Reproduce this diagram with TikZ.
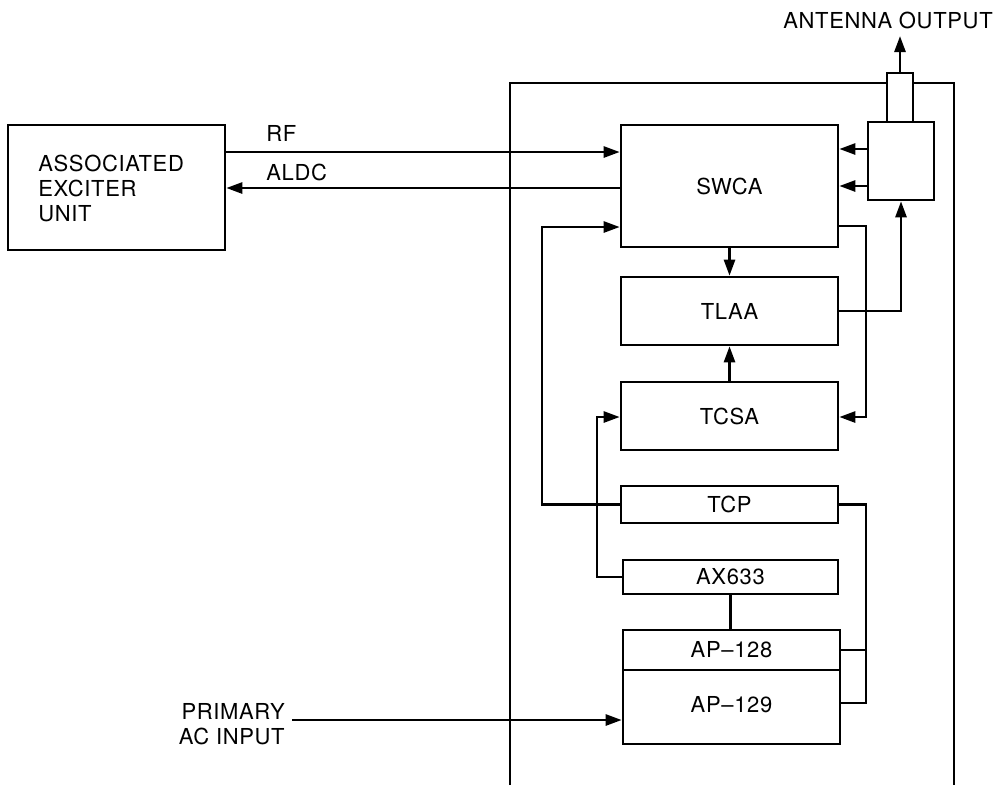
\documentclass[tikz,border=0pt]{standalone}
\usepackage{fontspec}
\setmainfont[LetterSpace=3]{TeX Gyre Heros}
\usetikzlibrary{arrows.meta}
\begin{document}
\begin{tikzpicture}[x=1pt,y=-1pt,
  line width=2.6pt,
  every node/.style={font=\fontsize{22}{25}\selectfont},
  blk/.style={draw, rectangle, inner sep=0pt, fill=white},
  arr/.style={-{Triangle[length=16pt,width=11pt]}},
  lbl/.style={inner sep=0pt}]
\useasboundingbox (0,0) rectangle (1000,785);
% outer enclosure
\draw (510,785) -- (510,83) -- (954,83) -- (954,785);
% blocks
\node[blk, minimum width=217pt, minimum height=125pt] (exc) at (116.5,187.5) {};
\node[lbl, anchor=west, align=left] (exctext) at (37,188) {ASSOCIATED\\EXCITER\\UNIT};
\node[blk, minimum width=217pt, minimum height=122pt] (swca) at (729.5,186) {SWCA};
\node[blk, minimum width=217pt, minimum height=68pt] (tlaa) at (729.5,311) {TLAA};
\node[blk, minimum width=217pt, minimum height=68pt] (tcsa) at (729.5,416) {TCSA};
\node[blk, minimum width=217pt, minimum height=37pt] (tcp) at (729.5,504.5) {TCP};
\node[blk, minimum width=215pt, minimum height=34pt] (ax) at (730.5,577) {AX633};
\node[blk, minimum width=217pt, minimum height=40pt] (ap128) at (731.5,650) {AP--128};
\node[blk, minimum width=217pt, minimum height=74pt] (ap129) at (731.5,707) {};
\node[lbl] (ap129t) at (731.5,705) {AP--129};
\node[blk, minimum width=66pt, minimum height=78pt] (ant) at (901,161) {};
\node[blk, minimum width=26pt, minimum height=49pt] (antt) at (900,97.5) {};
\coordinate (antout) at (900,36);
\node[lbl] (antlbl) at (888,20) {ANTENNA OUTPUT};
% labels
\node[lbl, anchor=west] (rf) at (265,133) {RF};
\node[lbl, anchor=west] (aldc) at (265,172) {ALDC};
\node[lbl, anchor=east, align=right] (prim) at (286,724) {PRIMARY\\AC INPUT};
\coordinate (primstart) at (292,720);
% connectors
\draw[arr] (exc.east |- 0,152) -- (swca.west |- 0,152);
\draw[arr] (swca.west |- 0,188) -- (exc.east |- 0,188);
\draw[arr] (swca.south) -- (tlaa.north);
\draw[arr] (tcsa.north) -- (tlaa.south);
\draw[arr] (tcp.west) -| (542,227) -- (swca.west |- 0,227);
\draw[arr] (ax.west) -| (597,417) -- (tcsa.west |- 0,417);
\draw[arr] (swca.east |- 0,226) -| (866,417) -- (tcsa.east |- 0,417);
\draw[arr] (tlaa.east) -| (ant.south);
\draw[arr] (ant.west |- 0,149) -- (swca.east |- 0,149);
\draw[arr] (ant.west |- 0,186) -- (swca.east |- 0,186);
\draw[arr] (antt.north) -- (antout);
\draw (ax.south) -- (ax.south |- ap128.north);
\draw (tcp.east) -| (866,703) -- (ap129.east |- 0,703);
\draw (ap128.east) -- (866,650);
\draw[arr] (primstart) -- (ap129.west |- primstart);
\end{tikzpicture}
\end{document}
